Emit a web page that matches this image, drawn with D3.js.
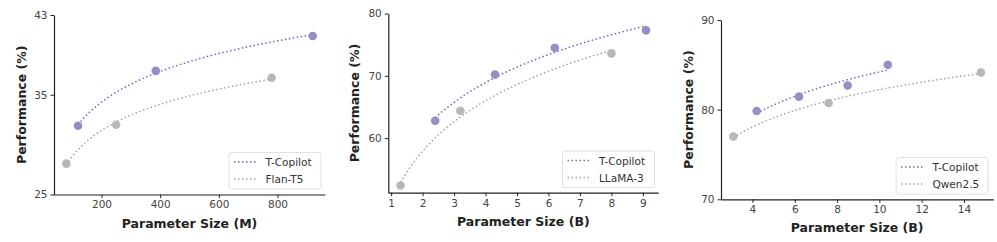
<!DOCTYPE html>
<html>
<head>
<meta charset="utf-8">
<script src="https://cdn.jsdelivr.net/npm/d3@7"></script>
<style>
  body { margin: 0; background: #fff; }
  svg { font-family: "DejaVu Sans", sans-serif; }
</style>
</head>
<body>
<svg width="997" height="242"></svg>
<script>
// data
const flanSize = [80, 250, 780];
const flanPerf = [28.1, 32.0, 36.7];
const copilotT5Size = [120, 385, 920];
const copilotT5Perf = [31.9, 37.4, 40.9];

const llamaSize = [1.3, 3.2, 8.0];
const llamaPerf = [52.4, 64.4, 73.6];
const copilotLlamaSize = [2.4, 4.3, 6.2, 9.1];
const copilotLlamaPerf = [62.8, 70.2, 74.5, 77.3];

const qwenSize = [3.1, 7.6, 14.8];
const qwenPerf = [77.0, 80.75, 84.15];
const copilotQwenSize = [4.2, 6.2, 8.5, 10.4];
const copilotQwenPerf = [79.85, 81.45, 82.7, 85.0];

const xTicks1 = [200, 400, 600, 800];
const yTicks1 = [25, 35, 43];
const xTicks2 = [1, 2, 3, 4, 5, 6, 7, 8, 9];
const yTicks2 = [60, 70, 80];
const xTicks3 = [4, 6, 8, 10, 12, 14];
const yTicks3 = [70, 80, 90];

const purple = "#9a8dc6", purpleLine = "#7265c4";
const gray = "#b8b8b8", grayLine = "#a3a3a3";

const panels = [
  {base: "Flan-T5", xs: flanSize, ys: flanPerf, cx: copilotT5Size, cy: copilotT5Perf,
   xt: xTicks1, yt: yTicks1, xlab: "Parameter Size (M)", ydom: [25, 43],
   box: {l: 54, r: 325, t: 15, b: 194.5}, legend: {x: 229, y: 152.5}, ylabX: 21},
  {base: "LLaMA-3", xs: llamaSize, ys: llamaPerf, cx: copilotLlamaSize, cy: copilotLlamaPerf,
   xt: xTicks2, yt: yTicks2, xlab: "Parameter Size (B)", ydom: [51.25, 80],
   box: {l: 388.3, r: 658.3, t: 13.5, b: 192.7}, legend: {x: 562.5, y: 151}, ylabX: 354.5},
  {base: "Qwen2.5", xs: qwenSize, ys: qwenPerf, cx: copilotQwenSize, cy: copilotQwenPerf,
   xt: xTicks3, yt: yTicks3, xlab: "Parameter Size (B)", ydom: [70, 90],
   box: {l: 721, r: 993.3, t: 20, b: 199.3}, legend: {x: 896, y: 157.5}, ylabX: 688.5}
];

// log fit y = a + b ln x
function logFit(xs, ys) {
  const lx = xs.map(Math.log);
  const mx = d3.mean(lx), my = d3.mean(ys);
  const b = d3.sum(lx, (v, i) => (v - mx) * (ys[i] - my)) / d3.sum(lx, v => (v - mx) ** 2);
  return x => my + b * (Math.log(x) - mx);
}

const svg = d3.select("svg");

panels.forEach(p => {
  const allX = p.xs.concat(p.cx);
  const [mn, mx] = d3.extent(allX);
  const pad = (mx - mn) * 0.05;
  const x = d3.scaleLinear().domain([mn - pad, mx + pad]).range([p.box.l, p.box.r]);
  const y = d3.scaleLinear().domain(p.ydom).range([p.box.b, p.box.t]);
  const g = svg.append("g");

  const xAxis = g.append("g").attr("transform", `translate(0,${p.box.b})`)
    .call(d3.axisBottom(x).tickValues(p.xt).tickSize(3.5).tickPadding(3).tickSizeOuter(0));
  const yAxis = g.append("g").attr("transform", `translate(${p.box.l},0)`)
    .call(d3.axisLeft(y).tickValues(p.yt).tickSize(3.5).tickPadding(3).tickSizeOuter(0));
  [xAxis, yAxis].forEach(a => {
    a.select(".domain").attr("stroke", "#222").attr("stroke-width", 1.2);
    a.selectAll(".tick line").attr("stroke", "#222");
    a.selectAll("text").attr("fill", "#444").attr("font-size", 10.5)
      .attr("font-family", "DejaVu Sans, sans-serif");
  });

  g.append("text").attr("x", (p.box.l + p.box.r) / 2).attr("y", p.box.b + 33)
    .attr("text-anchor", "middle").attr("font-weight", "bold").attr("font-size", 12.5)
    .attr("fill", "#222").text(p.xlab);
  g.append("text").attr("transform", `translate(${p.ylabX},${(p.box.t + p.box.b) / 2}) rotate(-90)`)
    .attr("text-anchor", "middle").attr("dominant-baseline", "central")
    .attr("font-weight", "bold").attr("font-size", 12.5).attr("fill", "#222").text("Performance (%)");

  const series = [
    {xs: p.cx, ys: p.cy, c: purple, lc: purpleLine, name: "T-Copilot"},
    {xs: p.xs, ys: p.ys, c: gray, lc: grayLine, name: p.base}
  ];
  const line = d3.line().x(d => x(d[0])).y(d => y(d[1]));
  series.forEach(s => {
    const f = logFit(s.xs, s.ys);
    const [a, b] = d3.extent(s.xs);
    const pts = d3.range(0, 101).map(i => { const v = a + (b - a) * i / 100; return [v, f(v)]; });
    g.append("path").datum(pts).attr("d", line).attr("fill", "none")
      .attr("stroke", s.lc).attr("stroke-width", 1.5).attr("stroke-dasharray", "1.5,2.5");
    g.selectAll(null).data(s.xs.map((v, i) => [v, s.ys[i]])).join("circle")
      .attr("cx", d => x(d[0])).attr("cy", d => y(d[1])).attr("r", 4.3).attr("fill", s.c);
  });

  // legend
  const lg = g.append("g").attr("transform", `translate(${p.legend.x},${p.legend.y})`);
  lg.append("rect").attr("width", 92).attr("height", 36.5).attr("rx", 2.5)
    .attr("fill", "#fff").attr("stroke", "#d8d8d8").attr("stroke-width", 0.8);
  series.forEach((s, i) => {
    const yy = 9.5 + i * 17;
    lg.append("line").attr("x1", 5).attr("x2", 27).attr("y1", yy).attr("y2", yy)
      .attr("stroke", s.lc).attr("stroke-width", 1.5).attr("stroke-dasharray", "1.5,2.5");
    lg.append("text").attr("x", 36.5).attr("y", yy).attr("dominant-baseline", "central")
      .attr("font-size", 10.5).attr("fill", "#333").text(s.name);
  });
});
</script>
</body>
</html>
